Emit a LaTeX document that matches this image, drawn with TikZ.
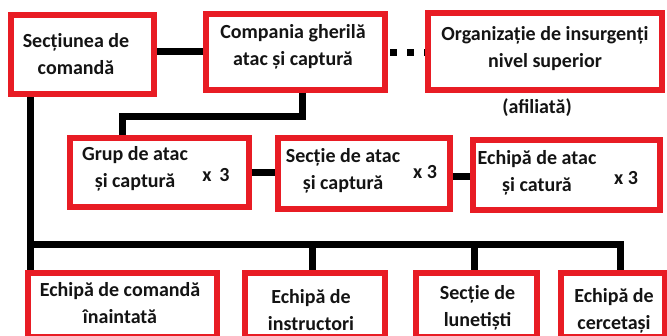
\documentclass[tikz,border=0pt]{standalone}
\usepackage{fontspec}
\setmainfont{Carlito}
\definecolor{boxred}{RGB}{232,28,36}
\definecolor{txt}{RGB}{20,20,20}
\begin{document}
\begin{tikzpicture}[x=1pt,y=-1pt,
  unitbox/.style={draw=boxred,line width=6pt,fill=white,inner sep=0pt,rectangle},
  conn/.style={draw=black,line width=7pt},
  lbl/.style={text=txt,align=center,inner sep=0pt,font=\fontsize{20}{27}\selectfont\bfseries},
  mult/.style={text=txt,inner sep=0pt,font=\fontsize{20}{24}\selectfont\bfseries}]
\useasboundingbox (0,0) rectangle (667,336);
\clip (0,0) rectangle (667,336);
% boxes
\node[unitbox,minimum width=143pt,minimum height=79pt] (A) at (82.5,54.5) {};
\node[unitbox,minimum width=179pt,minimum height=76pt] (B) at (295.5,52) {};
\node[unitbox,minimum width=234pt,minimum height=77pt] (C) at (545,51.5) {};
\node[unitbox,minimum width=179pt,minimum height=69pt] (D) at (159.5,172.5) {};
\node[unitbox,minimum width=172pt,minimum height=71pt] (E) at (364,173.5) {};
\node[unitbox,minimum width=187pt,minimum height=70pt] (F) at (566.5,175) {};
\node[unitbox,minimum width=189pt,minimum height=64pt] (G) at (122.5,305) {};
\node[unitbox,minimum width=140pt,minimum height=64pt] (H) at (315,305) {};
\node[unitbox,minimum width=121pt,minimum height=64pt] (I) at (476.5,305) {};
\node[unitbox,minimum width=104pt,minimum height=64pt] (J) at (613,305) {};
% texts
\node[lbl] (tA) at (76,54) {Secțiunea de\\comandă};
\node[lbl] (tB) at (293,47) {Compania gherilă\\atac și captură};
\node[lbl] (tC) at (545,49) {Organizație de insurgenți\\nivel superior};
\node[lbl] (tCa) at (537,108) {(afiliată)};
\node[lbl] (tD) at (135,169) {Grup de atac\\și captură};
\node[mult] (mD) at (216,175) {x\, 3};
\node[lbl] (tE) at (343,171) {Secție de atac\\și captură};
\node[mult] (mE) at (425,172) {x 3};
\node[lbl] (tF) at (537,173) {Echipă de atac\\și catură};
\node[mult] (mF) at (626,178) {x 3};
\node[lbl] (tG) at (120,303) {Echipă de comandă\\înaintată};
\node[lbl] (tH) at (311,310) {Echipă de\\instructori};
\node[lbl] (tI) at (477.5,308) {Secție de\\lunetiști};
\node[lbl] (tJ) at (614,311) {Echipă de\\cercetași};
% connectors
\draw[conn] (B.west) -- (B.west -| A.east);
\draw[conn,dash pattern=on 7pt off 10pt,shorten <=2pt] ([yshift=-1pt]B.east) -- ([yshift=-1pt]B.east -| C.west);
\coordinate (t1) at (122,117);
\draw[conn] ([xshift=6.5pt]B.south) |- (t1) -- (t1 |- D.north);
\draw[conn] (D.east) -- (D.east -| E.west);
\draw[conn] ([yshift=-2pt]F.west) -- ([yshift=-2pt]F.west -| E.east);
\coordinate (bus) at (30,245);
\coordinate (b2) at (312,245);
\coordinate (b3) at (474,245);
\coordinate (busR) at (620,245);
\draw[conn] (bus |- A.south) -- (bus |- G.north);
\draw[conn] (bus) -- (busR) -- (busR |- J.north);
\draw[conn] (b2) -- (b2 |- H.north);
\draw[conn] (b3) -- (b3 |- I.north);
\end{tikzpicture}
\end{document}
